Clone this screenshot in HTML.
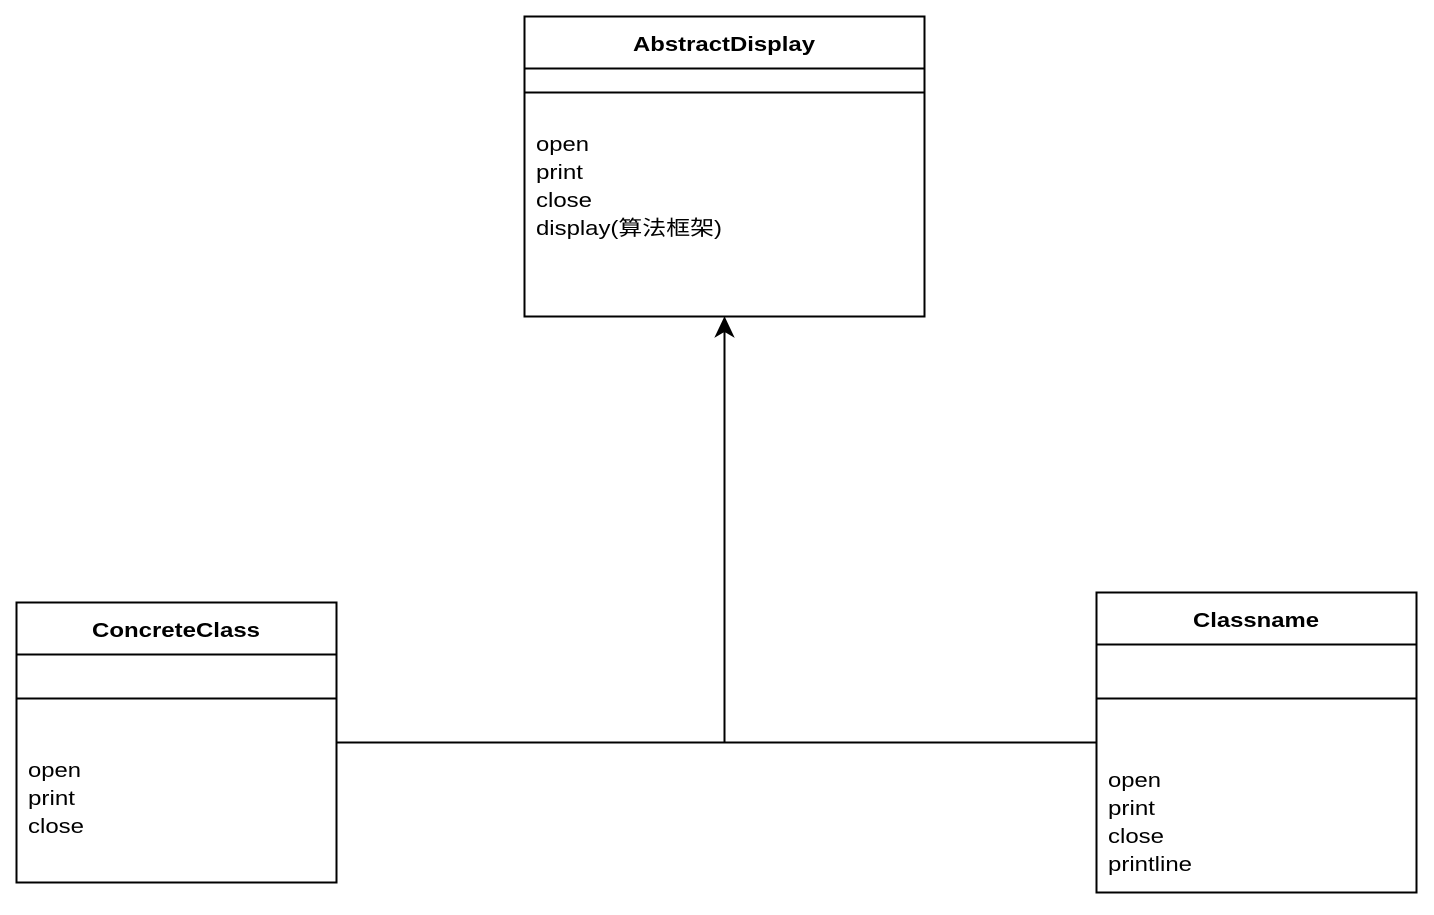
<!DOCTYPE html>
<html><head><meta charset="utf-8"><style>
html,body{margin:0;padding:0;background:#fff;width:1434px;height:915px;overflow:hidden}
svg text{font-family:"Liberation Sans","Noto Sans CJK SC",sans-serif;font-size:20.5px;fill:#000}
</style></head><body>
<svg width="1434" height="915" xmlns="http://www.w3.org/2000/svg">
<g fill="none" stroke="#000" stroke-width="2">
<rect x="524.5" y="16.5" width="400" height="300"/>
<line x1="524" y1="68.5" x2="925" y2="68.5"/>
<line x1="524" y1="92.5" x2="925" y2="92.5"/>
<rect x="16.5" y="602.5" width="320" height="280"/>
<line x1="16" y1="654.5" x2="337" y2="654.5"/>
<line x1="16" y1="698.5" x2="337" y2="698.5"/>
<rect x="1096.5" y="592.5" width="320" height="300"/>
<line x1="1096" y1="644.5" x2="1417" y2="644.5"/>
<line x1="1096" y1="698.5" x2="1417" y2="698.5"/>
<line x1="337" y1="742.5" x2="1096" y2="742.5"/>
<line x1="724.5" y1="742" x2="724.5" y2="326"/>
</g>
<path d="M724.5 318 L733 336 L724.5 331 L716 336 Z" fill="#000" stroke="#000" stroke-width="1.5"/>
<text x="633" y="51" textLength="182" lengthAdjust="spacingAndGlyphs" style="font-weight:bold">AbstractDisplay</text>
<text x="536" y="151" textLength="53" lengthAdjust="spacingAndGlyphs">open</text>
<text x="536" y="179" textLength="47" lengthAdjust="spacingAndGlyphs">print</text>
<text x="536" y="207" textLength="56" lengthAdjust="spacingAndGlyphs">close</text>
<text x="536" y="235" textLength="186" lengthAdjust="spacingAndGlyphs">display(算法框架)</text>
<text x="92" y="637" textLength="168" lengthAdjust="spacingAndGlyphs" style="font-weight:bold">ConcreteClass</text>
<text x="28" y="777" textLength="53" lengthAdjust="spacingAndGlyphs">open</text>
<text x="28" y="805" textLength="47" lengthAdjust="spacingAndGlyphs">print</text>
<text x="28" y="833" textLength="56" lengthAdjust="spacingAndGlyphs">close</text>
<text x="1193" y="627" textLength="126" lengthAdjust="spacingAndGlyphs" style="font-weight:bold">Classname</text>
<text x="1108" y="787" textLength="53" lengthAdjust="spacingAndGlyphs">open</text>
<text x="1108" y="815" textLength="47" lengthAdjust="spacingAndGlyphs">print</text>
<text x="1108" y="843" textLength="56" lengthAdjust="spacingAndGlyphs">close</text>
<text x="1108" y="871" textLength="84" lengthAdjust="spacingAndGlyphs">printline</text>
</svg>
</body></html>
